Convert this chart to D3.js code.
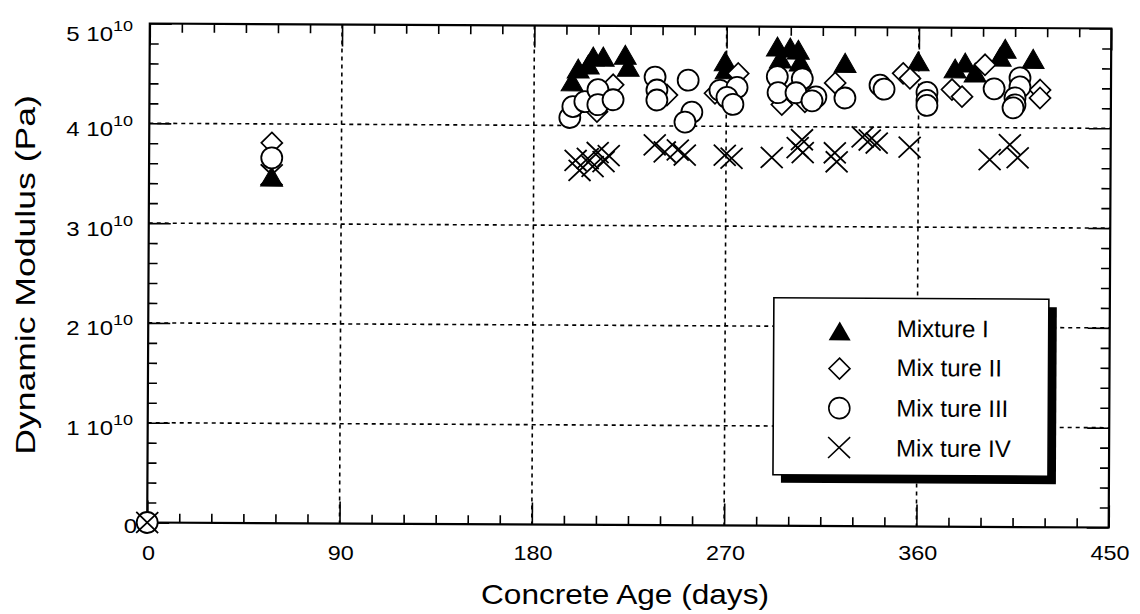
<!DOCTYPE html>
<html>
<head>
<meta charset="utf-8">
<script src="https://cdn.jsdelivr.net/npm/d3@7"></script>
<style>
  body { margin: 0; background: #fff; }
  svg { display: block; }
  text { font-family: "Liberation Sans", Arial, Helvetica, sans-serif; fill: #000; }
</style>
</head>
<body>
<svg id="chart" width="1140" height="614"></svg>
<script>
// ---- axis ticks and labels ----
const xMajorTicks = [0, 90, 180, 270, 360, 450];
const yMajorTicks = [0, 1, 2, 3, 4, 5];          // units of 10^10 Pa
const yTickMantissa = ["0", "1", "2", "3", "4", "5"];
const seriesNames = ["Mixture I", "Mix ture II", "Mix ture III", "Mix ture IV"];

// ---- Mixture I (filled triangles): age in days, modulus in 10^10 Pa ----
const mix1Age = [57.4, 207.6, 212.3, 222.6, 200.6, 205.3, 197.8, 224.0,
  269.4, 269.9, 293.8, 299.8, 303.6, 295.2, 304.5, 325.5, 359.7,
  377.0, 381.7, 386.4, 400.4, 398.1, 413.5];
const mix1Mod = [3.44, 4.66, 4.66, 4.68, 4.54, 4.58, 4.41, 4.56,
  4.62, 4.54, 4.77, 4.76, 4.74, 4.65, 4.62, 4.61, 4.63,
  4.56, 4.62, 4.52, 4.76, 4.68, 4.66];

// ---- Mixture II (open diamonds) ----
const mix2Age = [57.4, 209.5, 217.0, 242.2, 275.5, 264.7, 296.0, 306.8,
  320.9, 352.7, 355.9, 375.6, 380.3, 391.0, 416.8, 416.8];
const mix2Mod = [3.81, 4.14, 4.41, 4.31, 4.53, 4.33, 4.22, 4.25,
  4.44, 4.54, 4.49, 4.38, 4.31, 4.63, 4.38, 4.30];

// ---- Mixture III (open circles) ----
const mix3Age = [0, 57.4, 196.8, 198.2, 203.8, 209.9, 209.9, 217.0,
  236.6, 237.5, 237.5, 252.1, 253.9, 250.7,
  267.0, 275.0, 270.3, 273.1,
  293.8, 305.5, 294.2, 302.6, 311.9, 310.1, 325.5,
  341.9, 343.8, 363.9, 363.9, 363.9,
  395.3, 407.4, 407.4, 405.1, 405.1, 404.2];
const mix3Mod = [0, 3.66, 4.08, 4.19, 4.24, 4.36, 4.21, 4.26,
  4.49, 4.36, 4.26, 4.46, 4.14, 4.04,
  4.36, 4.39, 4.29, 4.22,
  4.50, 4.48, 4.34, 4.34, 4.30, 4.26, 4.29,
  4.42, 4.38, 4.35, 4.27, 4.22,
  4.39, 4.50, 4.41, 4.30, 4.23, 4.20];

// ---- Mixture IV (crosses) ----
const mix4Age = [0, 57.4, 199.6, 201.5, 205.3, 209.9, 212.7, 215.1, 207.6,
  236.6, 241.3, 247.4, 250.7, 269.4, 272.6,
  291.4, 305.5, 305.9, 303.5, 320.9, 321.8,
  333.9, 337.2, 340.5, 355.9, 393.4, 402.8, 406.5];
const mix4Mod = [0, 3.49, 3.65, 3.55, 3.67, 3.73, 3.64, 3.70, 3.59,
  3.81, 3.74, 3.76, 3.71, 3.71, 3.68,
  3.69, 3.87, 3.74, 3.79, 3.74, 3.65,
  3.90, 3.87, 3.84, 3.80, 3.68, 3.83, 3.70];

// ---- layout ----
const plot = { left: 148.5, right: 1110, top: 26, bottom: 525 };
const x = d3.scaleLinear().domain([0, 450]).range([plot.left, plot.right]);
const y = d3.scaleLinear().domain([0, 5]).range([plot.bottom, plot.top]);
const cx = (plot.left + plot.right) / 2, cy = (plot.top + plot.bottom) / 2;

const svg = d3.select("#chart");
svg.append("rect").attr("width", 1140).attr("height", 614).attr("fill", "#fff");

// the plotting frame sits very slightly askew on the page
const panel = svg.append("g").attr("transform", `rotate(0.3, ${cx}, ${cy})`);

// dotted grid
const grid = panel.append("g").attr("stroke", "#000").attr("stroke-width", 1.6)
  .attr("stroke-dasharray", "4,4").attr("fill", "none");
grid.selectAll(".gx").data(xMajorTicks.slice(1, -1)).join("line")
  .attr("x1", d => x(d)).attr("x2", d => x(d))
  .attr("y1", plot.top).attr("y2", plot.bottom);
grid.selectAll(".gy").data(yMajorTicks.slice(1, -1)).join("line")
  .attr("x1", plot.left).attr("x2", plot.right)
  .attr("y1", d => y(d)).attr("y2", d => y(d));

// inward ticks on all four sides
const xMinor = d3.range(0, 451, 15).filter(d => d % 90 !== 0);
const yMinor = d3.range(0, 5.0001, 0.2).map(d => +d.toFixed(1)).filter(d => Math.abs(d - Math.round(d)) > 1e-6);
function tickAxis(axisFn, scale, values, size, transform) {
  const g = panel.append("g").attr("transform", transform)
    .call(axisFn(scale).tickValues(values).tickSize(-size).tickFormat(""));
  g.select(".domain").remove();
  g.selectAll(".tick line").attr("stroke", "#000").attr("stroke-width", 1.6);
}
tickAxis(d3.axisBottom, x, xMajorTicks, 22, `translate(0,${plot.bottom})`);
tickAxis(d3.axisBottom, x, xMinor, 9, `translate(0,${plot.bottom})`);
tickAxis(d3.axisTop, x, xMajorTicks, 22, `translate(0,${plot.top})`);
tickAxis(d3.axisTop, x, xMinor, 9, `translate(0,${plot.top})`);
tickAxis(d3.axisLeft, y, yMajorTicks, 22, `translate(${plot.left},0)`);
tickAxis(d3.axisLeft, y, yMinor, 9, `translate(${plot.left},0)`);
tickAxis(d3.axisRight, y, yMajorTicks, 22, `translate(${plot.right},0)`);
tickAxis(d3.axisRight, y, yMinor, 9, `translate(${plot.right},0)`);

// frame
panel.append("rect")
  .attr("x", plot.left).attr("y", plot.top)
  .attr("width", plot.right - plot.left).attr("height", plot.bottom - plot.top)
  .attr("fill", "none").attr("stroke", "#000").attr("stroke-width", 2.2);

// marker shapes
const triPath = "M0,-12.7L11,6.3L-11,6.3Z";
const diaPath = "M0,-10.5L10.5,0L0,10.5L-10.5,0Z";
const crossPath = "M-11,-10.5L11,10.5M-11,10.5L11,-10.5";

const pts = (ages, mods) => ages.map((a, i) => [a, mods[i]]);
const marks = panel.append("g");

marks.append("g").selectAll("path").data(pts(mix1Age, mix1Mod)).join("path")
  .attr("d", triPath).attr("transform", d => `translate(${x(d[0])},${y(d[1])})`)
  .attr("fill", "#000").attr("stroke", "#000").attr("stroke-width", 1);

marks.append("g").selectAll("path").data(pts(mix2Age, mix2Mod)).join("path")
  .attr("d", diaPath).attr("transform", d => `translate(${x(d[0])},${y(d[1])})`)
  .attr("fill", "#fff").attr("stroke", "#000").attr("stroke-width", 1.7);

marks.append("g").selectAll("circle").data(pts(mix3Age, mix3Mod)).join("circle")
  .attr("cx", d => x(d[0])).attr("cy", d => y(d[1])).attr("r", 10.5)
  .attr("fill", "#fff").attr("stroke", "#000").attr("stroke-width", 1.8);

marks.append("g").selectAll("path").data(pts(mix4Age, mix4Mod)).join("path")
  .attr("d", crossPath).attr("transform", d => `translate(${x(d[0])},${y(d[1])})`)
  .attr("fill", "none").attr("stroke", "#000").attr("stroke-width", 1.8);

// legend with drop shadow
const leg = { x: 774, y: 297, w: 275, h: 177 };
const lg = panel.append("g");
lg.append("rect").attr("x", leg.x + 8).attr("y", leg.y + 8).attr("width", leg.w).attr("height", leg.h).attr("fill", "#000");
lg.append("rect").attr("x", leg.x).attr("y", leg.y).attr("width", leg.w).attr("height", leg.h)
  .attr("fill", "#fff").attr("stroke", "#000").attr("stroke-width", 1.6);
const legendShapes = [
  g => g.append("path").attr("d", triPath).attr("fill", "#000"),
  g => g.append("path").attr("d", diaPath).attr("fill", "#fff").attr("stroke", "#000").attr("stroke-width", 1.6),
  g => g.append("circle").attr("r", 10.5).attr("fill", "#fff").attr("stroke", "#000").attr("stroke-width", 1.6),
  g => g.append("path").attr("d", crossPath).attr("fill", "none").attr("stroke", "#000").attr("stroke-width", 1.6)
];
const rowY = [333, 367.5, 407, 446.5];
const rowBase = [335.5, 374.5, 415, 455];
seriesNames.forEach((name, i) => {
  const g = lg.append("g").attr("transform", `translate(840,${rowY[i]})`);
  legendShapes[i](g);
  lg.append("text").attr("x", 897).attr("y", rowBase[i])
    .attr("font-size", 24).text(name);
});

// axis labels (wide face)
function wideText(px, py, sx, anchor, size, str) {
  return svg.append("text")
    .attr("transform", `translate(${px},${py}) scale(${sx},1)`)
    .attr("text-anchor", anchor).attr("font-size", size).text(str);
}
xMajorTicks.forEach(d => wideText(x(d), 560, 1.17, "middle", 20, String(d)));

yMajorTicks.forEach((d, i) => {
  if (d === 0) {
    wideText(137, 533, 1.2, "end", 20, "0");
    return;
  }
  const yy = y(d) + (d === 5 ? 4.5 : 0);
  const t = svg.append("text")
    .attr("transform", `translate(133,${yy + 10}) scale(1.2,1)`)
    .attr("text-anchor", "end").attr("font-size", 20);
  t.append("tspan").text(yTickMantissa[i] + " 10");
  t.append("tspan").attr("dy", -10).attr("font-size", 15).text("10");
});

wideText(625, 604, 1.17, "middle", 27, "Concrete Age (days)");

svg.append("text")
  .attr("transform", `translate(35,275) rotate(-90) scale(1.27,1)`)
  .attr("text-anchor", "middle").attr("font-size", 28)
  .text("Dynamic Modulus (Pa)");
</script>
</body>
</html>
